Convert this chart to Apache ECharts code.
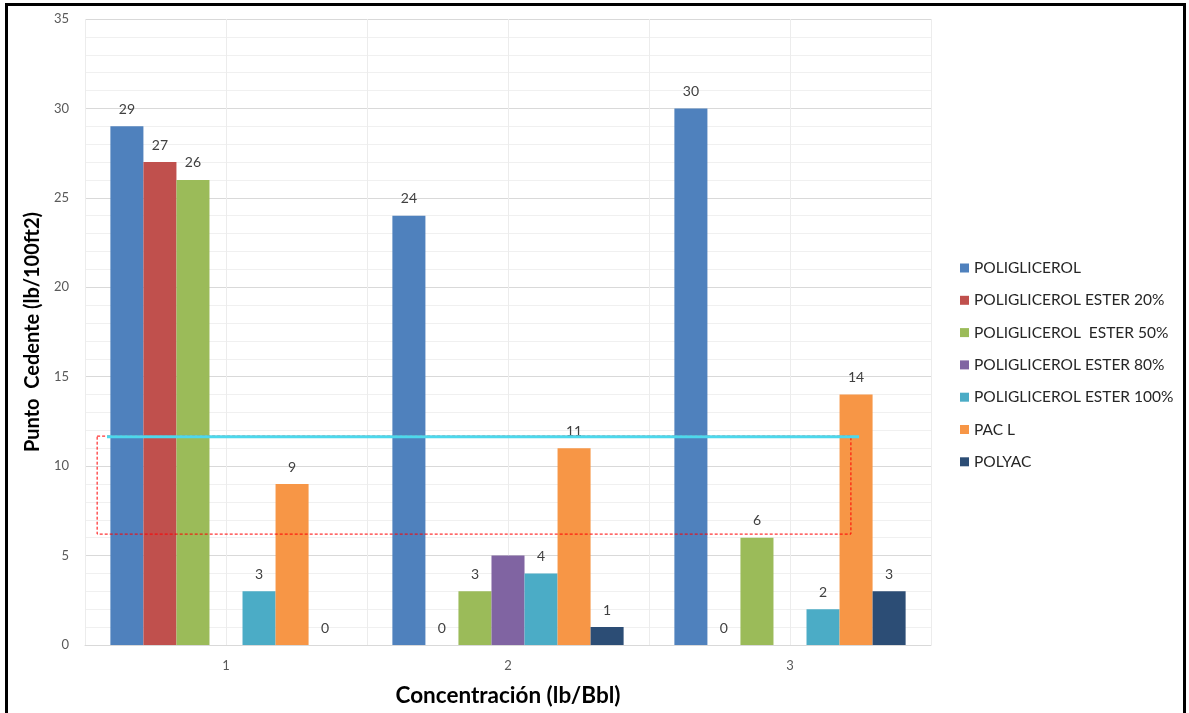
<!DOCTYPE html>
<html>
<head>
<meta charset="utf-8">
<script src="https://cdn.jsdelivr.net/npm/echarts@6/dist/echarts.min.js"></script>
<style>
  html, body { margin: 0; padding: 0; background: #fff; overflow: hidden; }
  #wrap { position: relative; width: 1189px; height: 713px; }
  #chart { position: absolute; left: 0; top: 0; width: 1189px; height: 713px; }
  #frame {
    position: absolute; left: 5px; top: 3px; width: 1175px; height: 720px;
    border: 3px solid #000; pointer-events: none;
  }
</style>
</head>
<body>
<div id="wrap">
  <div id="chart"></div>
  <div id="frame"></div>
</div>
<script>
// Concentration levels (lb/Bbl)
const categories = ['1', '2', '3'];

// Yield point per additive (lb/100ft2)
const poliglicerol = [29, 24, 30];
const ester20 = [27, 0, 0];
const ester50 = [26, 3, 6];
const ester80 = [null, 5, null];
const ester100 = [3, 4, 2];
const pacL = [9, 11, 14];
const polyac = [0, 1, 3];

const seriesNames = [
  'POLIGLICEROL',
  'POLIGLICEROL ESTER 20%',
  'POLIGLICEROL  ESTER 50%',
  'POLIGLICEROL ESTER 80%',
  'POLIGLICEROL ESTER 100%',
  'PAC L',
  'POLYAC'
];
const seriesValues = [poliglicerol, ester20, ester50, ester80, ester100, pacL, polyac];
const seriesColors = ['#4f81bd', '#c0504d', '#9bbb59', '#8064a2', '#4bacc6', '#f79646', '#2c4d75'];
const showValueLabel = [true, true, true, false, true, true, true];

// Reference level and highlighted band (x in category units, y in lb/100ft2)
const referenceLine = [[0.078, 11.65], [2.745, 11.65]];
const highlightBox = [[0.043, 11.68], [2.716, 11.68], [2.716, 6.2], [0.043, 6.2], [0.043, 11.68]];

const yTicks = { min: 0, max: 35, interval: 5 };

const font = 'Lato, "Open Sans", "Liberation Sans", sans-serif';
const chart = echarts.init(document.getElementById('chart'), null, { renderer: 'canvas' });

const barSeries = seriesNames.map((name, i) => ({
  name: name,
  type: 'bar',
  xAxisIndex: 0,
  yAxisIndex: 0,
  data: seriesValues[i],
  barGap: '0%',
  barCategoryGap: '18%',
  itemStyle: { color: seriesColors[i] },
  label: {
    show: showValueLabel[i],
    position: 'top',
    distance: 10,
    color: '#404040',
    fontSize: 14,
    fontFamily: font
  },
  z: 2
}));

chart.setOption({
  animation: false,
  textStyle: { fontFamily: font },
  grid: { left: 85, top: 19, right: 258, bottom: 68, containLabel: false },
  legend: {
    orient: 'vertical',
    left: 955,
    top: 255,
    itemWidth: 9,
    itemHeight: 9,
    itemGap: 16.3,
    icon: 'rect',
    data: seriesNames,
    textStyle: { fontSize: 15.5, color: '#262626', fontFamily: font, padding: [0, 0, 0, 0] }
  },
  xAxis: [
    {
      type: 'category',
      data: categories,
      axisLine: { show: true, lineStyle: { color: '#d9d9d9', width: 1 } },
      axisTick: { show: false },
      axisLabel: { color: '#595959', fontSize: 13, margin: 14, fontFamily: font },
      splitLine: { show: false },
      name: 'Concentración (lb/Bbl)',
      nameLocation: 'middle',
      nameGap: 39,
      nameTextStyle: { fontSize: 22.5, fontWeight: 'bold', color: '#000', fontFamily: font }
    },
    {
      type: 'value',
      min: 0,
      max: 3,
      interval: 0.5,
      show: true,
      position: 'top',
      axisLine: { show: false },
      axisTick: { show: false },
      axisLabel: { show: false },
      splitLine: { show: true, lineStyle: { color: '#ececec', width: 1 } }
    }
  ],
  yAxis: {
    type: 'value',
    min: yTicks.min,
    max: yTicks.max,
    interval: yTicks.interval,
    axisLine: { show: false },
    axisTick: { show: false },
    axisLabel: { color: '#595959', fontSize: 13, margin: 16, fontFamily: font },
    splitLine: { show: true, lineStyle: { color: '#d9d9d9', width: 1 } },
    minorTick: { show: false, splitNumber: 5 },
    minorSplitLine: { show: true, lineStyle: { color: '#f0f0f0', width: 1 } },
    name: 'Punto  Cedente (lb/100ft2)',
    nameLocation: 'middle',
    nameGap: 40,
    nameTextStyle: { fontSize: 20, fontWeight: 'bold', color: '#000', fontFamily: font }
  },
  series: barSeries.concat([
    {
      name: 'highlight',
      type: 'line',
      xAxisIndex: 1,
      yAxisIndex: 0,
      data: highlightBox,
      symbol: 'none',
      silent: true,
      lineStyle: { color: '#ff0000', width: 1, type: [3, 2] },
      z: 5
    },
    {
      name: 'reference',
      type: 'line',
      xAxisIndex: 1,
      yAxisIndex: 0,
      data: referenceLine,
      symbol: 'none',
      silent: true,
      lineStyle: { color: '#4dd8ec', width: 3 },
      z: 6
    }
  ])
});
</script>
</body>
</html>
